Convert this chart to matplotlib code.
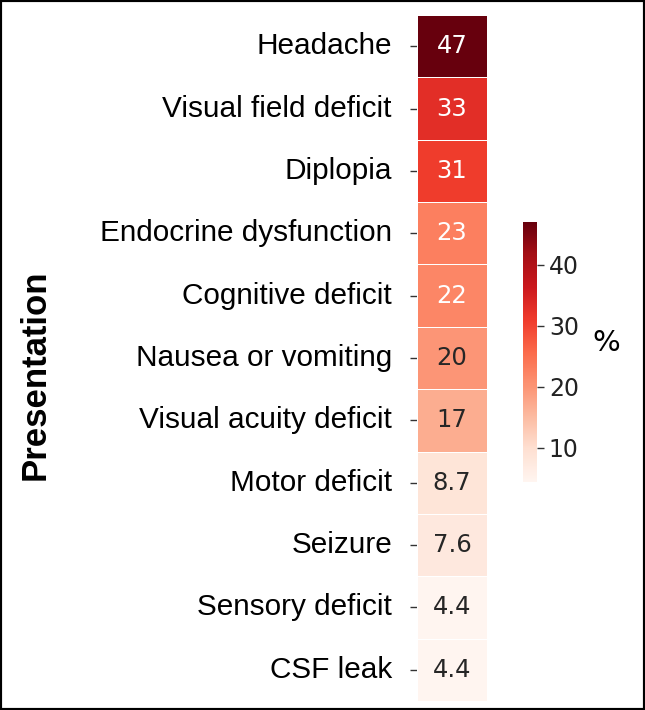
import matplotlib
matplotlib.use("Agg")
import matplotlib.pyplot as plt
import numpy as np
import seaborn as sns
from matplotlib.patches import Rectangle

categories = ["Headache", "Visual field deficit", "Diplopia", "Endocrine dysfunction",
              "Cognitive deficit", "Nausea or vomiting", "Visual acuity deficit",
              "Motor deficit", "Seizure", "Sensory deficit", "CSF leak"]
values = [47, 33, 31, 23, 22, 20, 17, 8.7, 7.6, 4.4, 4.4]

sns.set_style("white")
plt.rcParams['font.family'] = ['DejaVu Sans']

fig = plt.figure(figsize=(6.45, 7.1), dpi=100)
ax = fig.add_axes([417/645, 1 - 701/710, 70/645, 686/710])
cax = fig.add_axes([523/645, 1 - 482/710, 14/645, 260/710])

data = np.array(values).reshape(-1, 1)
sns.heatmap(data, ax=ax, cbar_ax=cax, cmap="Reds", annot=True, fmt=".2g",
            annot_kws={"fontsize": 17.5}, linewidths=0.6, linecolor="white",
            xticklabels=False, yticklabels=categories)

ax.set_yticklabels(categories, rotation=0, fontsize=21.4, family="Liberation Sans",
                   color="black")
ax.tick_params(axis="y", left=True, length=5, width=1, pad=13, color="#333333")
ax.set_ylabel("")

cax.set_yticks([10, 20, 30, 40])
cax.tick_params(labelsize=17, length=5, width=1, color="#333333", labelcolor="#222222")
cbar = ax.collections[0].colorbar
cbar.outline.set_visible(False)
cbar.set_label("%", rotation=0, fontsize=21, labelpad=20, va="center", color="black")
cax.yaxis.label.set_y(0.535)

fig.text(35/645, 1 - 375/710, "Presentation", rotation=90, fontsize=25,
         fontweight="bold", family="Liberation Sans", ha="center", va="center",
         color="black")

fig.patches.append(Rectangle((0, 0), 1, 1, transform=fig.transFigure,
                             fill=False, edgecolor="black", linewidth=3))

fig.savefig("out.png", dpi=100)
